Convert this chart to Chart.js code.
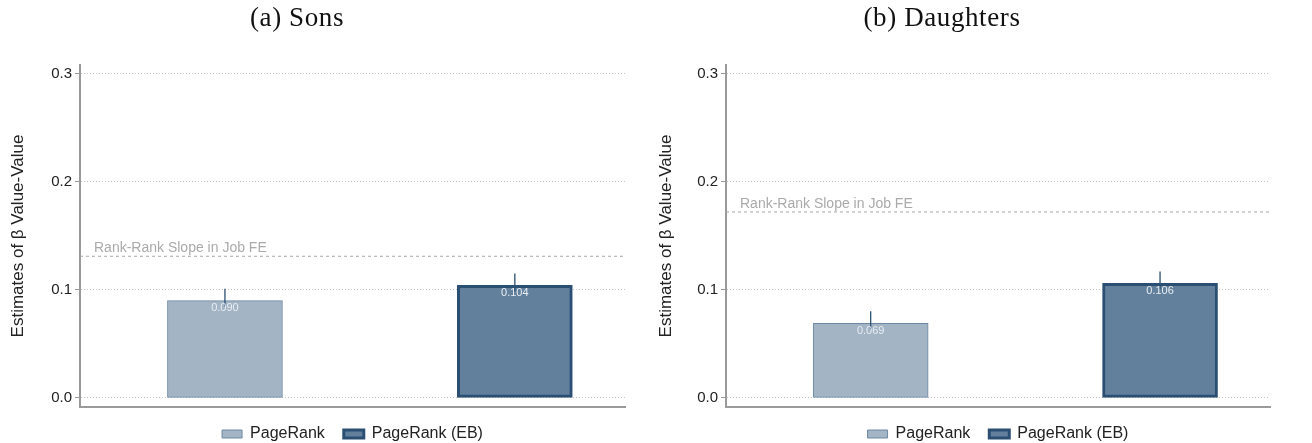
<!DOCTYPE html>
<html>
<head>
<meta charset="utf-8">
<script src="https://cdn.jsdelivr.net/npm/chart.js@4"></script>
<style>
  body { margin: 0; background: #fff; }
  #wrap { position: relative; width: 1312px; height: 443px; }
  .panel { position: absolute; top: 0; height: 443px; }
  .ttl { position: absolute; top: 2px; font-family: "Liberation Serif", serif; font-size: 27px; letter-spacing: 0.6px; color: #111; transform: translateX(-50%); white-space: nowrap; }
</style>
</head>
<body>
<div id="wrap">
  <div class="panel" style="left:0;width:656px"><canvas id="sonsChart" width="656" height="443"></canvas></div>
  <div class="panel" style="left:656px;width:656px"><canvas id="daughtersChart" width="656" height="443"></canvas></div>
  <div class="ttl" style="left:297px">(a) Sons</div>
  <div class="ttl" style="left:942px">(b) Daughters</div>
</div>
<script>
// data
const groups = ['PageRank', 'PageRank (EB)'];
const sonsEst = [0.090, 0.104];
const sonsCiHi = [0.101, 0.115];
const daughtersEst = [0.069, 0.106];
const daughtersCiHi = [0.080, 0.117];
const sonsSlope = 0.131;
const daughtersSlope = 0.172;
const yTicks = [0, 0.1, 0.2, 0.3];

const fills = ['#a3b4c5', '#62809c'];
const borders = ['#6d89a4', '#2b4f73'];
const borderWidths = [1, 3];

// dashed reference line with its label
const slopeLine = {
    id: 'slopeLine',
    beforeDatasetsDraw(chart, args, opts) {
        const ctx = chart.ctx, area = chart.chartArea;
        const y = chart.scales.y.getPixelForValue(opts.value);
        ctx.save();
        ctx.strokeStyle = '#a8a8a8';
        ctx.lineWidth = 1;
        ctx.setLineDash([3, 3]);
        ctx.beginPath();
        ctx.moveTo(area.left, y);
        ctx.lineTo(area.right, y);
        ctx.stroke();
        ctx.setLineDash([]);
        ctx.fillStyle = '#aaaaaa';
        ctx.font = '14px "Liberation Sans", Arial, sans-serif';
        ctx.textBaseline = 'bottom';
        ctx.fillText('Rank-Rank Slope in Job FE', area.left + 14, y - 1);
        ctx.restore();
    }
};

// error bars + value labels
const barExtras = {
    id: 'barExtras',
    afterDatasetsDraw(chart, args, opts) {
        const ctx = chart.ctx, ys = chart.scales.y;
        ctx.save();
        chart.data.datasets.forEach(function(ds, i) {
            const bar = chart.getDatasetMeta(i).data[0];
            const yHi = ys.getPixelForValue(opts.ciHi[i]);
            ctx.strokeStyle = '#2b4f73';
            ctx.lineWidth = 1.3;
            ctx.beginPath();
            ctx.moveTo(bar.x, yHi);
            ctx.lineTo(bar.x, bar.y + 6);
            ctx.stroke();
            ctx.fillStyle = '#e9eef3';
            ctx.font = '11px "Liberation Sans", Arial, sans-serif';
            ctx.textAlign = 'center';
            ctx.textBaseline = 'top';
            ctx.fillText(ds.data[0].y.toFixed(3), bar.x, bar.y + 2);
        });
        ctx.restore();
    }
};

function makeChart(id, est, ciHi, slope, padLeft, axisWidth, padRight) {
    const datasets = groups.map(function(g, i) {
        return {
            label: g,
            data: [{ x: i + 1, y: est[i] }],
            backgroundColor: fills[i],
            borderColor: borders[i],
            borderWidth: borderWidths[i],
            borderSkipped: false,
            barThickness: 115,
            grouped: false
        };
    });
    return new Chart(document.getElementById(id), {
        type: 'bar',
        data: { datasets: datasets },
        plugins: [slopeLine, barExtras],
        options: {
            responsive: false,
            animation: false,
            layout: { padding: { left: padLeft, right: padRight, top: 65, bottom: -9 } },
            scales: {
                x: {
                    type: 'linear', min: 0.5, max: 2.38, offset: false,
                    ticks: { display: false },
                    grid: { display: false },
                    border: { color: '#9a9a9a', width: 2 },
                    afterFit: function(s) { s.height = 0; }
                },
                y: {
                    min: -0.0085, max: 0.308,
                    afterBuildTicks: function(s) { s.ticks = yTicks.map(v => ({ value: v })); },
                    afterFit: function(s) { s.width = axisWidth; },
                    ticks: {
                        padding: 3, color: '#222',
                        font: { family: '"Liberation Sans", Arial, sans-serif', size: 15 },
                        callback: v => v.toFixed(1)
                    },
                    grid: {
                        color: '#c4c4c4', tickLength: 5,
                        tickColor: '#9a9a9a', tickBorderDash: [], tickWidth: 1
                    },
                    border: { color: '#9a9a9a', width: 2, dash: [1, 2] },
                    title: {
                        display: true, text: 'Estimates of β Value-Value', color: '#222', padding: 0,
                        font: { family: '"Liberation Sans", Arial, sans-serif', size: 17 }
                    }
                }
            },
            plugins: {
                tooltip: { enabled: false },
                slopeLine: { value: slope },
                barExtras: { ciHi: ciHi },
                legend: {
                    position: 'bottom', fullSize: false,
                    labels: {
                        boxWidth: 20, boxHeight: 8, padding: 19, color: '#222',
                        font: { family: '"Liberation Sans", Arial, sans-serif', size: 16 }
                    }
                }
            }
        }
    });
}

makeChart('sonsChart', sonsEst, sonsCiHi, sonsSlope, 8, 72, 31);
makeChart('daughtersChart', daughtersEst, daughtersCiHi, daughtersSlope, 0, 70, 42);
</script>
</body>
</html>
